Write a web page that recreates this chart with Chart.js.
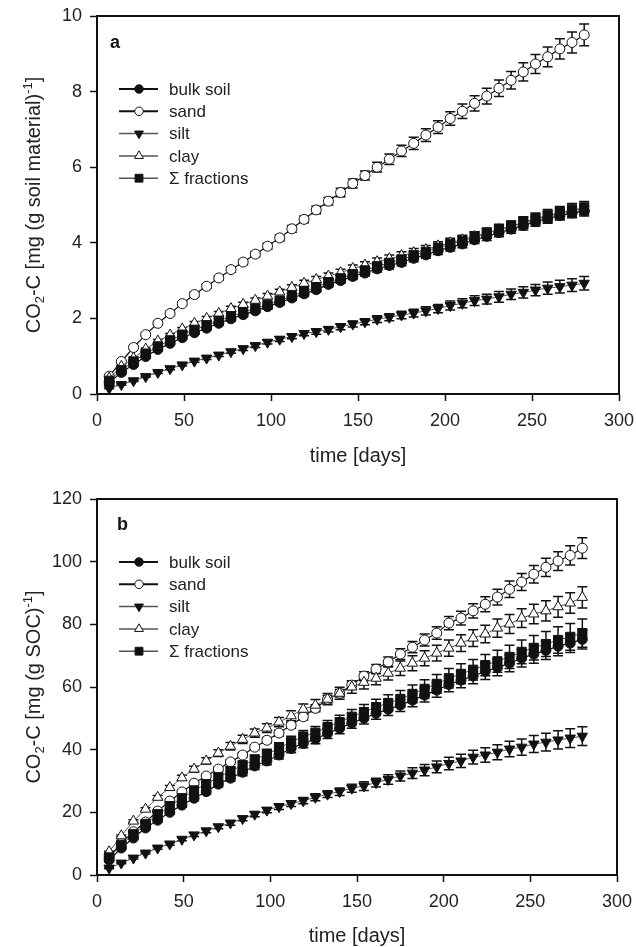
<!DOCTYPE html>
<html>
<head>
<meta charset="utf-8">
<title>CO2-C release</title>
<script src="https://cdn.jsdelivr.net/npm/chart.js@4.4.1/dist/chart.umd.min.js"></script>
<style>
  html, body { margin: 0; padding: 0; background: #fff; }
  canvas { display: block; }
</style>
</head>
<body>
<canvas id="chartA" width="636" height="470"></canvas>
<canvas id="chartB" width="636" height="477"></canvas>
<script>
// incubation days (weekly sampling)
const days = [7, 14, 21, 28, 35, 42, 49, 56, 63, 70, 77, 84, 91, 98, 105, 112, 119, 126, 133, 140,
  147, 154, 161, 168, 175, 182, 189, 196, 203, 210, 217, 224, 231, 238, 245, 252, 259, 266, 273, 280];

const seriesNames = ["bulk soil", "sand", "silt", "clay", "\u03A3 fractions"];
const xTicks = [0, 50, 100, 150, 200, 250, 300];
const yTicksA = [0, 2, 4, 6, 8, 10];
const yTicksB = [0, 20, 40, 60, 80, 100, 120];

// (a) mg CO2-C per g soil material
const bulkA = [0.30, 0.57, 0.78, 0.99, 1.18, 1.34, 1.49, 1.62, 1.74, 1.87, 1.99, 2.10, 2.20, 2.31, 2.42, 2.54, 2.65, 2.76,
  2.90, 3.00, 3.11, 3.20, 3.31, 3.40, 3.48, 3.59, 3.68, 3.79, 3.88, 3.97, 4.08, 4.17, 4.27, 4.36, 4.46, 4.56, 4.64, 4.72, 4.79, 4.84];
const sandA = [0.47, 0.86, 1.23, 1.57, 1.87, 2.13, 2.39, 2.63, 2.85, 3.07, 3.29, 3.49, 3.70, 3.91, 4.13, 4.37, 4.62, 4.87,
  5.10, 5.33, 5.57, 5.78, 6.00, 6.21, 6.43, 6.63, 6.85, 7.06, 7.29, 7.48, 7.69, 7.88, 8.09, 8.30, 8.52, 8.73, 8.92, 9.13, 9.30, 9.50];
const siltA = [0.15, 0.25, 0.35, 0.46, 0.57, 0.67, 0.77, 0.87, 0.95, 1.03, 1.12, 1.20, 1.28, 1.37, 1.45, 1.52, 1.60, 1.65,
  1.71, 1.78, 1.85, 1.91, 1.98, 2.03, 2.09, 2.14, 2.20, 2.26, 2.34, 2.40, 2.47, 2.51, 2.57, 2.64, 2.69, 2.75, 2.80, 2.84, 2.88, 2.93];
const clayA = [0.42, 0.73, 0.95, 1.19, 1.40, 1.56, 1.72, 1.87, 2.00, 2.13, 2.26, 2.37, 2.48, 2.59, 2.70, 2.82, 2.93, 3.03,
  3.12, 3.21, 3.32, 3.41, 3.50, 3.58, 3.66, 3.74, 3.82, 3.92, 4.00, 4.08, 4.17, 4.26, 4.35, 4.44, 4.53, 4.62, 4.70, 4.78, 4.85, 4.90];
const sumA = [0.35, 0.63, 0.86, 1.07, 1.26, 1.42, 1.57, 1.70, 1.82, 1.94, 2.05, 2.16, 2.26, 2.36, 2.47, 2.59, 2.71, 2.82,
  2.96, 3.06, 3.17, 3.27, 3.38, 3.47, 3.56, 3.67, 3.76, 3.87, 3.96, 4.05, 4.16, 4.25, 4.35, 4.44, 4.54, 4.64, 4.72, 4.80, 4.87, 4.92];

// standard errors, panel a
const bulkErrA = [0.02, 0.02, 0.03, 0.03, 0.03, 0.04, 0.04, 0.04, 0.04, 0.05, 0.05, 0.05, 0.06, 0.06, 0.06, 0.06, 0.07, 0.07, 0.07, 0.07,
  0.08, 0.08, 0.08, 0.09, 0.09, 0.09, 0.09, 0.10, 0.10, 0.10, 0.10, 0.11, 0.11, 0.11, 0.12, 0.12, 0.12, 0.12, 0.13, 0.13];
const sandErrA = [0.03, 0.03, 0.04, 0.04, 0.05, 0.05, 0.05, 0.06, 0.06, 0.06, 0.07, 0.07, 0.07, 0.08, 0.08, 0.09, 0.09, 0.10, 0.10, 0.11,
  0.12, 0.12, 0.13, 0.14, 0.15, 0.16, 0.17, 0.17, 0.18, 0.19, 0.20, 0.21, 0.22, 0.23, 0.24, 0.25, 0.26, 0.27, 0.28, 0.29];
const siltErrA = [0.01, 0.02, 0.02, 0.02, 0.03, 0.03, 0.03, 0.03, 0.04, 0.04, 0.04, 0.05, 0.05, 0.05, 0.06, 0.06, 0.06, 0.07, 0.07, 0.08,
  0.08, 0.08, 0.09, 0.09, 0.10, 0.10, 0.11, 0.11, 0.12, 0.12, 0.13, 0.13, 0.14, 0.14, 0.15, 0.15, 0.16, 0.17, 0.17, 0.18];
const clayErrA = [0.02, 0.03, 0.03, 0.03, 0.04, 0.04, 0.04, 0.05, 0.05, 0.05, 0.06, 0.06, 0.06, 0.07, 0.07, 0.07, 0.08, 0.08, 0.08, 0.09,
  0.09, 0.09, 0.10, 0.10, 0.10, 0.11, 0.11, 0.11, 0.12, 0.12, 0.12, 0.13, 0.13, 0.13, 0.14, 0.14, 0.14, 0.15, 0.15, 0.15];
const sumErrA = [0.02, 0.02, 0.03, 0.03, 0.03, 0.04, 0.04, 0.04, 0.05, 0.05, 0.05, 0.06, 0.06, 0.06, 0.07, 0.07, 0.07, 0.08, 0.08, 0.08,
  0.09, 0.09, 0.09, 0.10, 0.10, 0.11, 0.11, 0.11, 0.12, 0.12, 0.13, 0.13, 0.14, 0.14, 0.15, 0.15, 0.16, 0.16, 0.17, 0.17];

// (b) mg CO2-C per g SOC
const bulkB = [4.8, 8.6, 11.8, 15.0, 17.5, 20.0, 22.3, 24.5, 26.6, 29.0, 30.9, 32.8, 34.8, 36.4, 38.3, 40.4, 42.0, 43.4,
  45.2, 46.8, 48.5, 50.0, 51.6, 52.9, 54.2, 55.8, 57.4, 59.0, 60.8, 62.2, 63.5, 65.0, 66.2, 67.6, 69.2, 70.5, 71.7, 73.0, 74.0, 75.2];
const sandB = [5.7, 10.2, 13.8, 16.9, 20.4, 23.6, 26.5, 29.3, 31.6, 33.8, 36.1, 38.3, 40.8, 43.0, 45.3, 47.8, 50.5, 53.2,
  56.1, 58.0, 60.6, 63.5, 65.7, 68.0, 70.5, 72.7, 75.0, 77.2, 80.4, 82.0, 84.3, 86.4, 88.7, 91.2, 93.5, 96.0, 98.2, 100.2, 102.0, 104.3];
const siltB = [2.2, 3.8, 5.4, 7.0, 8.6, 9.9, 11.4, 12.8, 14.1, 15.4, 16.6, 18.0, 19.4, 20.7, 21.8, 22.8, 23.7, 24.8,
  25.8, 26.6, 27.7, 28.4, 29.5, 30.5, 31.6, 32.5, 33.5, 34.5, 35.6, 36.4, 37.6, 38.3, 39.2, 40.2, 40.8, 41.8, 42.4, 43.1, 43.7, 44.3];
const clayB = [7.4, 12.5, 17.2, 21.0, 24.8, 27.9, 31.0, 33.8, 36.4, 38.9, 41.1, 43.3, 45.3, 46.9, 48.8, 50.8, 52.9, 54.2,
  56.1, 58.0, 60.0, 61.5, 62.8, 64.4, 66.0, 67.6, 69.2, 70.8, 72.4, 74.0, 75.6, 76.9, 78.8, 80.1, 82.0, 83.3, 84.3, 85.6, 86.8, 88.6];
const sumB = [5.6, 9.6, 13.0, 16.3, 19.4, 22.0, 24.5, 27.0, 29.0, 31.2, 33.2, 35.0, 36.8, 38.5, 40.5, 42.5, 44.2, 45.4,
  47.2, 48.8, 50.5, 52.0, 53.6, 54.9, 56.2, 57.8, 59.4, 61.0, 62.8, 64.2, 65.5, 67.0, 68.2, 69.6, 71.2, 72.5, 73.7, 75.0, 76.0, 77.2];

// standard errors, panel b
const bulkErrB = [0.2, 0.3, 0.4, 0.5, 0.5, 0.6, 0.7, 0.8, 0.8, 0.9, 1.0, 1.1, 1.1, 1.2, 1.3, 1.4, 1.4, 1.5, 1.6, 1.7,
  1.7, 1.8, 1.9, 2.0, 2.0, 2.1, 2.2, 2.3, 2.3, 2.4, 2.5, 2.6, 2.6, 2.7, 2.8, 2.9, 2.9, 3.0, 3.0, 3.1];
const sandErrB = [0.2, 0.3, 0.3, 0.4, 0.4, 0.5, 0.5, 0.6, 0.6, 0.7, 0.7, 0.8, 0.8, 0.9, 0.9, 1.0, 1.0, 1.1, 1.2, 1.2,
  1.3, 1.4, 1.5, 1.6, 1.7, 1.8, 1.9, 2.0, 2.1, 2.2, 2.3, 2.4, 2.5, 2.6, 2.7, 2.8, 2.9, 3.0, 3.1, 3.3];
const siltErrB = [0.2, 0.2, 0.3, 0.3, 0.4, 0.4, 0.5, 0.5, 0.6, 0.6, 0.7, 0.7, 0.8, 0.8, 0.9, 0.9, 1.0, 1.1, 1.1, 1.2,
  1.3, 1.4, 1.4, 1.5, 1.6, 1.7, 1.8, 1.9, 2.0, 2.1, 2.2, 2.3, 2.4, 2.5, 2.6, 2.7, 2.8, 2.9, 3.0, 3.0];
const clayErrB = [0.2, 0.3, 0.4, 0.5, 0.6, 0.7, 0.8, 0.9, 1.0, 1.1, 1.2, 1.3, 1.3, 1.4, 1.5, 1.6, 1.7, 1.8, 1.8, 1.9,
  2.0, 2.1, 2.1, 2.2, 2.3, 2.4, 2.4, 2.5, 2.6, 2.7, 2.7, 2.8, 2.9, 3.0, 3.0, 3.1, 3.2, 3.3, 3.3, 3.4];
const sumErrB = [0.3, 0.4, 0.5, 0.6, 0.7, 0.8, 0.9, 1.0, 1.1, 1.2, 1.3, 1.4, 1.5, 1.6, 1.7, 1.8, 1.9, 2.0, 2.1, 2.2,
  2.3, 2.4, 2.5, 2.6, 2.7, 2.8, 2.9, 3.0, 3.1, 3.2, 3.3, 3.4, 3.5, 3.7, 3.8, 3.9, 4.0, 4.2, 4.3, 4.5];

const FONT = "'Liberation Sans', Arial, Helvetica, sans-serif";
Chart.defaults.font.family = FONT;
Chart.defaults.color = "#222";

// marker + line look per series: bulk, sand, silt, clay, sum
const looks = [
  { shape: "circle", r: 5, fill: "#111", line: "#111", lw: 1.2, legendLw: 2 },
  { shape: "circle", r: 5, fill: "#fff", line: "#111", lw: 1.2, legendLw: 2 },
  { shape: "triangleDown", r: 6, fill: "#111", line: "#555", lw: 1, legendLw: 1.5 },
  { shape: "triangle", r: 6, fill: "#fff", line: "#555", lw: 1, legendLw: 1.5 },
  { shape: "rect", r: 6.5, fill: "#111", line: "#555", lw: 1, legendLw: 1.5 }
];

function drawMarker(ctx, look, x, y, r) {
  ctx.beginPath();
  if (look.shape === "circle") {
    ctx.arc(x, y, r, 0, Math.PI * 2);
  } else if (look.shape === "rect") {
    const s = r * Math.SQRT1_2;
    ctx.rect(x - s, y - s, 2 * s, 2 * s);
  } else {
    const dir = look.shape === "triangle" ? -1 : 1;
    const h = r * 0.866;
    ctx.moveTo(x, y + dir * r);
    ctx.lineTo(x + h, y - dir * r / 2);
    ctx.lineTo(x - h, y - dir * r / 2);
    ctx.closePath();
  }
  ctx.fillStyle = look.fill;
  ctx.fill();
  ctx.lineWidth = 1;
  ctx.strokeStyle = "#111";
  ctx.stroke();
}

function makeDatasets(values, errors) {
  return values.map((vals, k) => {
    const lk = looks[k];
    return {
      label: seriesNames[k],
      data: days.map((d, i) => ({ x: d, y: vals[i] })),
      errors: errors[k],
      order: 5 - k,
      showLine: true,
      tension: 0,
      borderColor: lk.line,
      borderWidth: lk.lw,
      pointStyle: lk.shape === "triangleDown" ? "triangle" : lk.shape,
      pointRotation: lk.shape === "triangleDown" ? 180 : 0,
      pointRadius: lk.r,
      pointBackgroundColor: lk.fill,
      pointBorderColor: "#111",
      pointBorderWidth: 1
    };
  });
}

// error bars, legend, panel letter, frame and rotated y title
const panelDecor = {
  id: "panelDecor",
  beforeDatasetsDraw(chart) {
    const ctx = chart.ctx;
    const yScale = chart.scales.y;
    ctx.save();
    ctx.strokeStyle = "#111";
    ctx.lineWidth = 1.5;
    chart.data.datasets.forEach((ds, k) => {
      const meta = chart.getDatasetMeta(k);
      meta.data.forEach((pt, i) => {
        const v = ds.data[i].y;
        const e = ds.errors[i];
        const yTop = yScale.getPixelForValue(v + e);
        const yBot = yScale.getPixelForValue(v - e);
        ctx.beginPath();
        ctx.moveTo(pt.x, yTop);
        ctx.lineTo(pt.x, yBot);
        ctx.moveTo(pt.x - 5, yTop);
        ctx.lineTo(pt.x + 5, yTop);
        ctx.moveTo(pt.x - 5, yBot);
        ctx.lineTo(pt.x + 5, yBot);
        ctx.stroke();
      });
    });
    ctx.restore();
  },
  afterDraw(chart, args, opts) {
    const ctx = chart.ctx;
    const area = chart.chartArea;
    ctx.save();

    // top and right edges of the frame
    ctx.strokeStyle = "#111";
    ctx.lineWidth = 2;
    ctx.beginPath();
    ctx.moveTo(area.left, area.top);
    ctx.lineTo(area.right, area.top);
    ctx.lineTo(area.right, area.bottom);
    ctx.stroke();

    // panel letter
    ctx.fillStyle = "#111";
    ctx.font = "bold 18px " + FONT;
    ctx.textBaseline = "middle";
    ctx.textAlign = "left";
    ctx.fillText(opts.letter, opts.letterX, opts.letterY);

    // legend
    ctx.font = "17px " + FONT;
    seriesNames.forEach((name, k) => {
      const y = opts.legendY + k * 22.3;
      const lk = looks[k];
      ctx.strokeStyle = lk.line;
      ctx.lineWidth = lk.legendLw;
      ctx.beginPath();
      ctx.moveTo(119, y);
      ctx.lineTo(158, y);
      ctx.stroke();
      drawMarker(ctx, lk, 139, y, lk.r * 0.85);
      ctx.fillStyle = "#222";
      ctx.fillText(name, 169, y + 1);
    });

    // y axis title with sub/superscripts
    const parts = opts.yTitle;
    const big = 20, small = 13;
    let total = 0;
    parts.forEach(p => {
      ctx.font = (p.k === "n" ? big : small) + "px " + FONT;
      p.w = ctx.measureText(p.t).width;
      total += p.w;
    });
    ctx.translate(33, (area.top + area.bottom) / 2);
    ctx.rotate(-Math.PI / 2);
    ctx.textBaseline = "alphabetic";
    ctx.fillStyle = "#222";
    let x = -total / 2;
    parts.forEach(p => {
      ctx.font = (p.k === "n" ? big : small) + "px " + FONT;
      const dy = p.k === "sub" ? 11 : p.k === "sup" ? -1 : 7;
      ctx.fillText(p.t, x, dy);
      x += p.w;
    });
    ctx.restore();
  }
};

function makeChart(id, values, errors, yMax, yStep, pad, xAxisH, decor) {
  return new Chart(document.getElementById(id), {
    type: "line",
    data: { datasets: makeDatasets(values, errors) },
    options: {
      responsive: false,
      animation: false,
      events: [],
      layout: { padding: pad },
      scales: {
        x: {
          type: "linear",
          min: 0,
          max: 300,
          afterBuildTicks: s => { s.ticks = xTicks.map(v => ({ value: v })); },
          afterFit: s => { s.height = xAxisH; s.paddingLeft = 0; s.paddingRight = 0; },
          ticks: { font: { size: 18 }, padding: 9, color: "#222", maxRotation: 0 },
          grid: { drawOnChartArea: false, tickLength: 7, tickWidth: 1.5, color: "#111" },
          border: { color: "#111", width: 2 },
          title: { display: true, text: "time [days]", font: { size: 20, lineHeight: 1 }, color: "#222", padding: 0 }
        },
        y: {
          min: 0,
          max: yMax,
          afterBuildTicks: s => { s.ticks = (yMax === 10 ? yTicksA : yTicksB).map(v => ({ value: v })); },
          afterFit: s => { s.width = 97; s.paddingTop = 0; s.paddingBottom = 0; },
          ticks: { font: { size: 18 }, padding: 8, color: "#222", stepSize: yStep },
          grid: { drawOnChartArea: false, tickLength: 7, tickWidth: 1.5, color: "#111" },
          border: { color: "#111", width: 2 }
        }
      },
      plugins: {
        legend: { display: false },
        tooltip: { enabled: false },
        panelDecor: decor
      }
    },
    plugins: [panelDecor]
  });
}

makeChart("chartA",
  [bulkA, sandA, siltA, clayA, sumA],
  [bulkErrA, sandErrA, siltErrA, clayErrA, sumErrA],
  10, 2,
  { left: 0, right: 17, top: 16, bottom: 4 },
  72,
  {
    letter: "a", letterX: 110, letterY: 43, legendY: 89,
    yTitle: [
      { t: "CO", k: "n" }, { t: "2", k: "sub" }, { t: "-C [mg (g soil material)", k: "n" },
      { t: "-1", k: "sup" }, { t: "]", k: "n" }
    ]
  });

makeChart("chartB",
  [bulkB, sandB, siltB, clayB, sumB],
  [bulkErrB, sandErrB, siltErrB, clayErrB, sumErrB],
  120, 20,
  { left: 0, right: 19, top: 29, bottom: 1 },
  71,
  {
    letter: "b", letterX: 117, letterY: 55, legendY: 92,
    yTitle: [
      { t: "CO", k: "n" }, { t: "2", k: "sub" }, { t: "-C [mg (g SOC)", k: "n" },
      { t: "-1", k: "sup" }, { t: "]", k: "n" }
    ]
  });
</script>
</body>
</html>
